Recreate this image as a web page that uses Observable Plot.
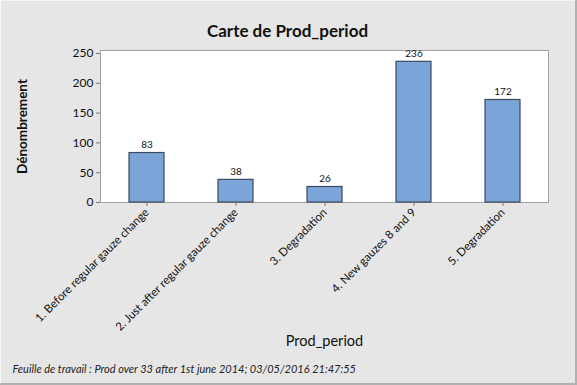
<!DOCTYPE html>
<html>
<head>
<meta charset="utf-8">
<script src="https://cdn.jsdelivr.net/npm/d3@7"></script>
<script src="https://cdn.jsdelivr.net/npm/@observablehq/plot@0.6"></script>
<style>
  html, body { margin: 0; padding: 0; background: #e6e6e6; }
  #chart { position: relative; width: 577px; height: 385px; background: #e6e6e6;
    box-shadow: inset -2px -2px 0 #b0b0b0, inset 1px 1px 0 #f6f6f6; }
  #chart svg { display: block; }
</style>
</head>
<body>
<div id="chart"></div>
<script>
const categories = [
  "1. Before regular gauze change",
  "2. Just after regular gauze change",
  "3. Degradation",
  "4. New gauzes 8 and 9",
  "5. Degradation"
];
const counts = [83, 38, 26, 236, 172];
const yTicks = [0, 50, 100, 150, 200, 250];
const title = "Carte de Prod_period";
const yLabel = "Dénombrement";
const xLabel = "Prod_period";
const footnote = "Feuille de travail : Prod over 33 after 1st june 2014; 03/05/2016 21:47:55";

const data = categories.map((c, i) => ({category: c, count: counts[i]}));
const font = "Lato, 'Open Sans', sans-serif";

const plot = Plot.plot({
  width: 577,
  height: 385,
  marginTop: 50,
  marginLeft: 100,
  marginRight: 29,
  marginBottom: 183,
  style: {background: "transparent", fontFamily: font, color: "#111"},
  x: {domain: categories, paddingInner: 0.61, paddingOuter: 0.305, label: null},
  y: {domain: [0, 255], label: null},
  marks: [
    Plot.frame({fill: "white", stroke: "#a0a0a0"}),
    Plot.barY(data, {x: "category", y: "count", fill: "#7ba4d9", stroke: "#3b4a5e", strokeWidth: 1.2}),
    Plot.text(data, {x: "category", y: "count", text: d => String(d.count), dy: -8, fontSize: 10, fill: "#111"}),
    Plot.axisY({ticks: yTicks, tickSize: 4, fontSize: 12, tickPadding: 3, stroke: "#777", fill: "#111", label: null}),
    Plot.axisX({tickRotate: -45, tickSize: 4, fontSize: 11.5, tickPadding: 4, stroke: "#777", fill: "#111", label: null}),
    Plot.text([title], {frameAnchor: "top", dx: -37, dy: -26, fontSize: 17, fontWeight: "bold", fill: "#111", text: d => d}),
    Plot.text([yLabel], {frameAnchor: "left", dx: -78, rotate: -90, textAnchor: "middle", fontSize: 13.5, fontWeight: "bold", fill: "#111", text: d => d}),
    Plot.text([xLabel], {frameAnchor: "bottom", dy: 143, fontSize: 14.5, fill: "#111", text: d => d}),
    Plot.text([footnote], {frameAnchor: "bottom-left", dx: -88, dy: 170, textAnchor: "start", fontSize: 11, fontStyle: "italic", fill: "#222", text: d => d})
  ]
});
document.getElementById("chart").appendChild(plot);
</script>
</body>
</html>
